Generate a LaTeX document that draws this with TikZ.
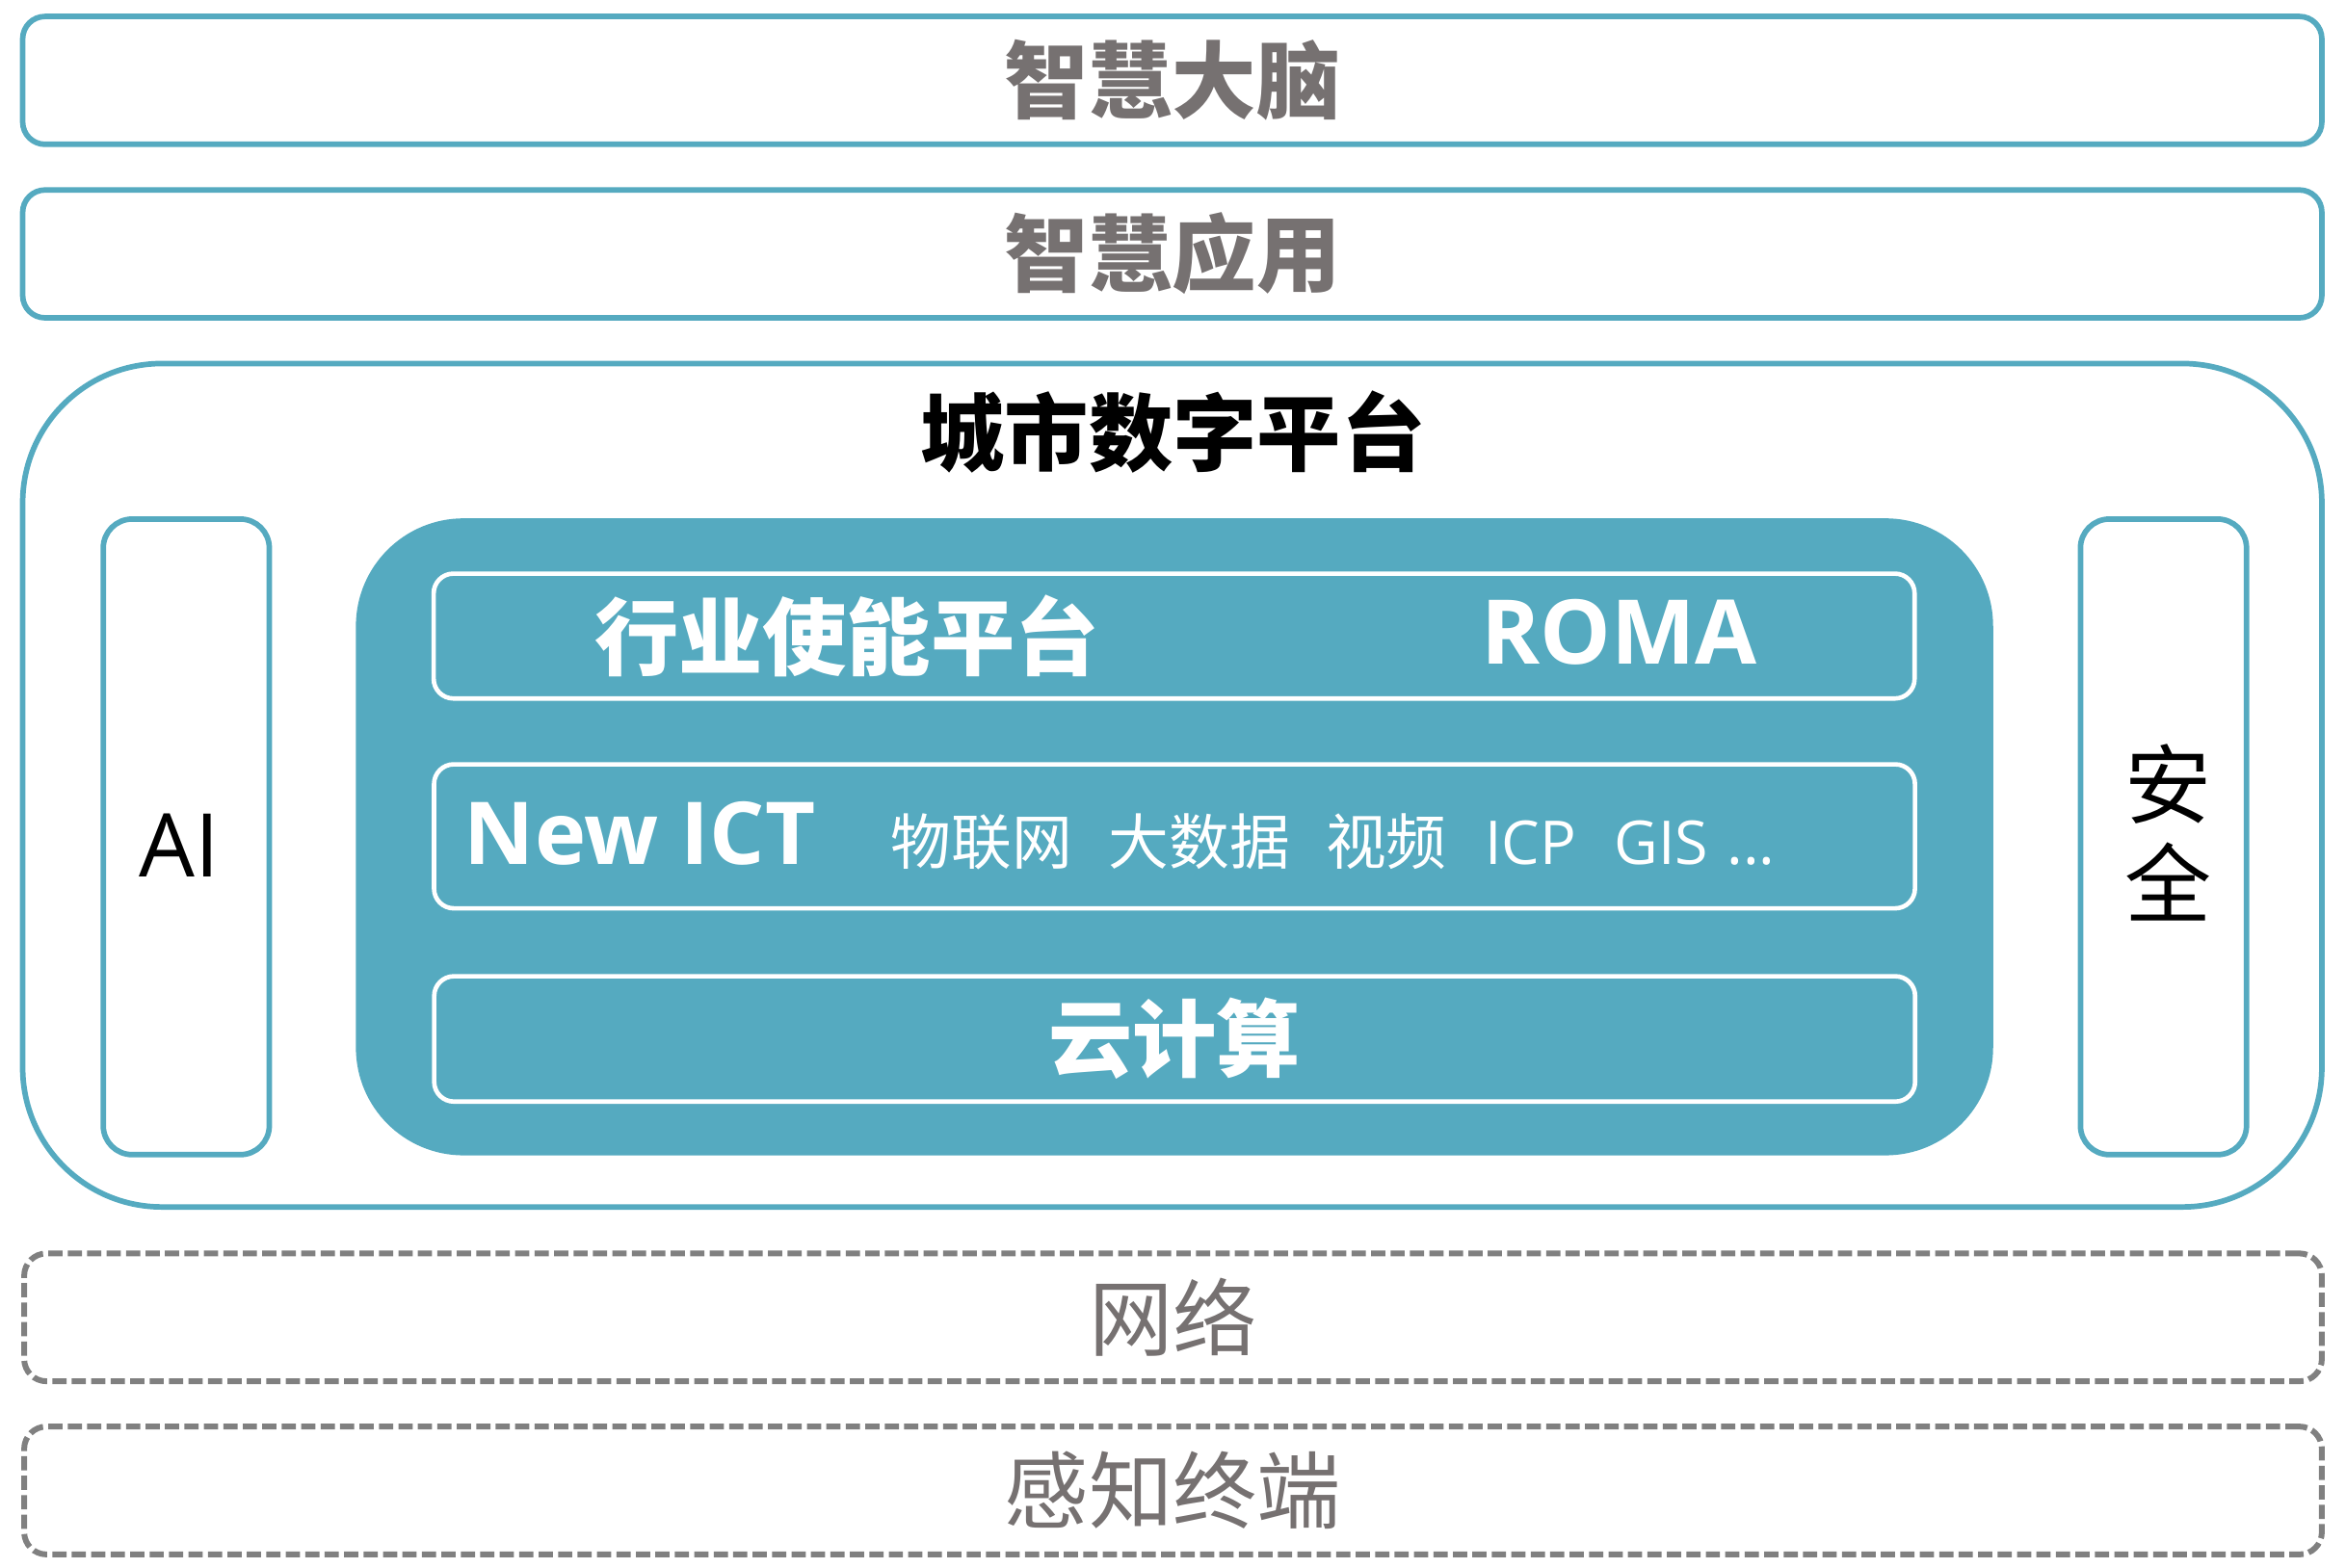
\documentclass[tikz,border=0pt]{standalone}
\usepackage{fontspec}
\setmainfont{Open Sans}
\newfontfamily\cjk{Noto Sans CJK SC}
\definecolor{citycyan}{HTML}{55AAC0}
\definecolor{textgray}{HTML}{767171}
\definecolor{dashgray}{HTML}{808080}
\newcommand{\headcjk}{\cjk\bfseries\fontsize{32}{38}\selectfont}
\newcommand{\lowcjk}{\cjk\fontsize{32}{38}\selectfont}
\newcommand{\latinb}{\bfseries\fontsize{34}{40}\selectfont}

\begin{document}
\begin{tikzpicture}[x=0.02cm,y=-0.02cm,inner sep=0pt,
	layer/.style={draw=citycyan,line width=2.1pt,rounded corners=8.5pt,minimum width=30.74cm,minimum height=1.71cm},
	dashlayer/.style={layer,draw=dashgray,line width=2.2pt,dash pattern=on 5.4pt off 2pt,minimum width=30.72cm},
	sidebox/.style={draw=citycyan,line width=2.1pt,rounded corners=11pt,minimum width=2.22cm,minimum height=8.5cm},
	inlayer/.style={draw=white,line width=1.7pt,rounded corners=7.5pt,minimum width=19.8cm}]
	\useasboundingbox (0,0) rectangle (1568,1047.7);

	% upper layers
	\node[layer,text=textgray,font=\headcjk] (brain) at (783.5,53.75) {智慧大脑};
	\node[layer,text=textgray,font=\headcjk] (apps) at (783.5,169.75) {智慧应用};

	% city digital platform
	\node[layer,minimum height=11.28cm,rounded corners=53pt] (platform) at (783.5,525) {};
	\node[font=\headcjk] (title) at (784,289) {城市数字平台};
	\node[sidebox] (ai) at (124.5,559.5) {};
	\node[font=\fontsize{33.5}{40}\selectfont,anchor=base] (ailabel) at (120,586) {AI};
	\node[sidebox] (safety) at (1446,559.5) {};
	\node[font=\cjk\fontsize{33}{38}\selectfont,align=center] (safetylabel) at (1449,556.7) {安\\全};

	\node[fill=citycyan,minimum width=21.89cm,minimum height=8.52cm,rounded corners=41pt] (core) at (785,559.5) {};
	\node[inlayer,minimum height=1.67cm] (enable) at (784.75,425.25) {};
	\node[font=\headcjk,text=white] (enablelabel) at (566,425) {行业使能平台};
	\node[font=\latinb,text=white,anchor=base] (roma) at (1082,444.2) {ROMA};
	\node[inlayer,minimum height=1.926cm] (ict) at (785,559.15) {};
	\node[font=\bfseries\fontsize{33}{40}\selectfont,text=white,anchor=base west] (ictlabel) at (310,578) {New ICT};
	\node[font=\fontsize{23}{28}\selectfont,text=white,anchor=base west] (ictlist) at (595,578)
		{{\cjk 物联网}\hspace{14pt}{\cjk 大数据}\hspace{13.5pt}{\cjk 视频}\hspace{14.5pt}ICP\hspace{14.5pt}GIS\hspace{7pt}...};
	\node[inlayer,minimum height=1.676cm,text=white,font=\headcjk] (cloud) at (785.1,694.6) {云计算};

	% lower layers
	\node[dashlayer,text=textgray,font=\lowcjk] (network) at (784,880.75) {网络};
	\node[dashlayer,text=textgray,font=\lowcjk] (sensing) at (784,996.5) {感知终端};
\end{tikzpicture}
\end{document}
